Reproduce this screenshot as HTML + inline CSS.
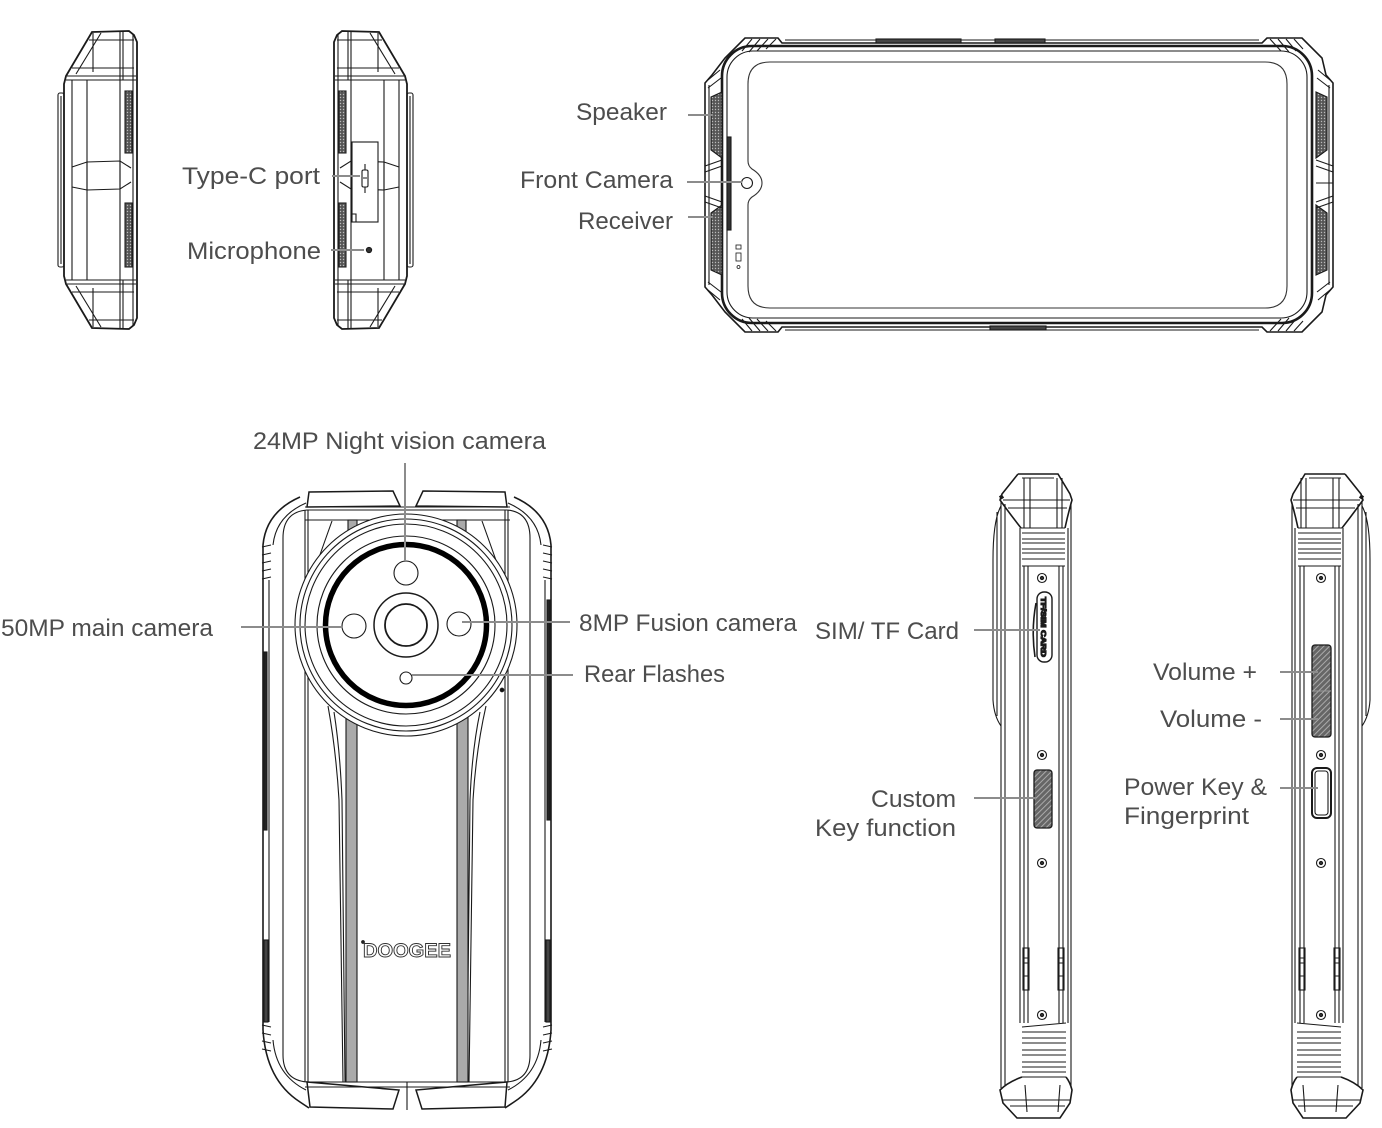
<!DOCTYPE html>
<html><head><meta charset="utf-8"><style>
html,body{margin:0;padding:0;background:#fff;}
svg{display:block;}
text{font-family:"Liberation Sans",sans-serif;font-size:24px;fill:#4d4d4d;}
</style></head><body>
<svg width="1382" height="1128" viewBox="0 0 1382 1128" xmlns="http://www.w3.org/2000/svg">
<defs>
<pattern id="mesh" width="3" height="3" patternUnits="userSpaceOnUse"><rect width="3" height="3" fill="#555"/><circle cx="1.5" cy="1.5" r="0.7" fill="#bbb"/></pattern>
<pattern id="hatch" width="4" height="4" patternUnits="userSpaceOnUse" patternTransform="rotate(45)"><rect width="4" height="4" fill="#666"/><line x1="1" y1="0" x2="1" y2="4" stroke="#aaa" stroke-width="1"/></pattern>

<g id="p1" fill="none" stroke="#1a1a1a" stroke-width="1.1">
 <path d="M92 32 L129 31 L134 35 L137 42 L137 318 L134 325 L129 329 L92 328 L66 284 L64 276 L64 84 L66 76 Z" stroke-width="1.8"/>
 <rect x="58" y="93" width="6" height="174" rx="2"/>
 <line x1="61" y1="96" x2="61" y2="264"/>
 <line x1="133" y1="35" x2="133" y2="325"/>
 <line x1="120" y1="32" x2="120" y2="328"/>
 <line x1="123" y1="32" x2="123" y2="80"/>
 <line x1="123" y1="280" x2="123" y2="328"/>
 <line x1="72" y1="80" x2="72" y2="280"/>
 <line x1="87" y1="80" x2="87" y2="280"/>
 <line x1="93" y1="33" x2="93" y2="72"/>
 <line x1="93" y1="288" x2="93" y2="327"/>
 <path d="M89 40 L134 40 M72 68 L134 68 M67 76 L136 76 M66 80 L136 80"/>
 <path d="M89 320 L134 320 M72 292 L134 292 M67 284 L136 284 M66 280 L136 280"/>
 <path d="M101 33 L76 74 M101 327 L76 286"/>
 <path d="M72 167 L87 162 L120 161 L131 168 M72 187 L87 190 L120 189 L131 182"/>
 <path d="M87 162 L87 190 M120 161 L120 189"/>
 <rect x="125" y="91" width="7" height="62" fill="url(#mesh)" stroke="#222"/>
 <rect x="125" y="203" width="7" height="64" fill="url(#mesh)" stroke="#222"/>
</g>

<g id="ps" fill="none" stroke="#1a1a1a" stroke-width="1.1">
 <path d="M1018 474 L1058 474 L1070 494 L1072 500 Q1068 514 1065 528 M1018 474 L1002 494 L1000 500 Q1010 514 1021 528" stroke-width="1.6"/>
 <path d="M1000 498 L1003 496" stroke-width="4"/>
 <path d="M1022 478 L1054 478 M1003 500 L1070 500 M1008 508 L1067 508"/>
 <path d="M1024 478 L1024 528 M1030 478 L1030 528 M1057 478 L1057 528 M1062 478 L1062 528"/>
 <path d="M1021 528 L1065 528 M1022 533 L1065 533 M1022 539 L1065 539 M1022 543 L1065 543 M1022 549 L1065 549 M1022 553 L1065 553 M1022 559 L1065 559 M1022 566 L1065 566"/>
 <path d="M1001 502 L1001 1088 M1005 504 L1005 1086"/>
 <path d="M1001 506 Q993 520 993 560 L993 700 Q994 716 1001 726 M997 512 L997 716"/>
 <path d="M1020 528 L1020 1023 M1024 566 L1024 1023 M1028 566 L1028 1023"/>
 <path d="M1059 566 L1059 1023 M1063 566 L1063 1023 M1068 528 L1068 1023 M1071 502 L1071 1088"/>
 <rect x="1023" y="948" width="6" height="42"/>
 <rect x="1058" y="948" width="6" height="42"/>
 <path d="M1023 958 L1029 958 M1023 963 L1029 963 M1058 958 L1064 958 M1058 963 L1064 963 M1023 976 L1029 976 M1058 976 L1064 976"/>
 <path d="M1022 1027 L1066 1023 M1022 1032 L1066 1032 M1022 1038 L1066 1038 M1022 1043 L1066 1043 M1022 1050 L1066 1050 M1022 1055 L1066 1055 M1022 1062 L1066 1062 M1022 1067 L1066 1067 M1022 1072 L1066 1072 M1022 1077 L1066 1077"/>
 <path d="M1022 1077 Q1008 1082 1000 1090 L1003 1103 L1017 1118 L1060 1118 L1070 1103 L1072 1090 Q1070 1082 1066 1077" stroke-width="1.6"/>
 <path d="M1003 1100 L1070 1100 M1010 1106 L1065 1106 M1025 1085 L1027 1112 M1060 1085 L1058 1112"/>
 <circle cx="1042" cy="578" r="4.5"/><circle cx="1042" cy="578" r="1.6" fill="#333"/>
 <circle cx="1042" cy="755" r="4.5"/><circle cx="1042" cy="755" r="1.6" fill="#333"/>
 <circle cx="1042" cy="863" r="4.5"/><circle cx="1042" cy="863" r="1.6" fill="#333"/>
 <circle cx="1042" cy="1015" r="4.5"/><circle cx="1042" cy="1015" r="1.6" fill="#333"/>
</g>
</defs>

<!-- Phone 1 & 2 -->
<use href="#p1"/>
<use href="#p1" transform="translate(471,0) scale(-1,1)"/>
<g fill="none" stroke="#1a1a1a" stroke-width="1.1">
 <rect x="352" y="142" width="26" height="80" fill="#fff"/>
 <path d="M352 214 L356 214 L356 222"/>
 <rect x="362" y="170" width="6" height="17" rx="1.5"/>
 <path d="M365 164 L365 170 M365 187 L365 193 M363 178 L367 178"/>
 <circle cx="369" cy="250" r="2.6" fill="#333"/>
</g>

<!-- Front phone -->
<g fill="none" stroke="#1a1a1a" stroke-width="1.1">
 <path d="M745 38 L778 38 L782 43 L1262 43 L1267 38 L1302 38 L1322 58 L1326 75 L1333 83 L1333 287 L1326 295 L1322 312 L1302 332 L1267 332 L1262 327 L782 327 L778 332 L745 332 L725 312 L712 295 L705 287 L705 83 L712 75 L725 58 Z" stroke-width="1.6"/>
 <rect x="722" y="46" width="590" height="277" rx="30" stroke-width="2.6"/>
 <rect x="727" y="51" width="580" height="267" rx="26"/>
 <path d="M770 62 H1265 Q1287 62 1287 84 V286 Q1287 308 1265 308 H770 Q748 308 748 286 V205 Q748 200 752 197 Q762 191 762 183 Q762 175 752 169 Q748 166 748 161 V84 Q748 62 770 62 Z" stroke="#333"/>
 <circle cx="747" cy="183" r="5.5"/>
 <path d="M752 39 L742 51 M760 39 L749 52 M768 39 L757 51 M776 39 L766 49 M708 80 L720 70 M708 88 L721 78"/>
 <path d="M1286 39 L1296 51 M1278 39 L1289 52 M1270 39 L1281 51 M1294 39 L1303 49 M1330 80 L1318 70 M1330 88 L1317 78"/>
 <path d="M752 331 L742 319 M760 331 L749 318 M768 331 L757 319 M776 331 L766 321 M708 290 L720 300 M708 282 L721 292"/>
 <path d="M1286 331 L1296 319 M1278 331 L1289 318 M1270 331 L1281 319 M1294 331 L1303 321 M1330 290 L1318 300 M1330 282 L1317 292"/>
 <path d="M709 85 L709 285 M1329 85 L1329 285 M785 40 L1259 40 M785 330 L1259 330"/>
 <rect x="876" y="39" width="85" height="4" fill="#444"/>
 <rect x="995" y="39" width="50" height="4" fill="#444"/>
 <rect x="990" y="326" width="56" height="4" fill="#444"/>
 <path d="M711 97 L722 92 L722 158 L711 150 Z" fill="url(#mesh)"/>
 <path d="M711 213 L722 205 L722 275 L711 270 Z" fill="url(#mesh)"/>
 <path d="M1327 97 L1316 92 L1316 158 L1327 150 Z" fill="url(#mesh)"/>
 <path d="M1327 213 L1316 205 L1316 275 L1327 270 Z" fill="url(#mesh)"/>
 <path d="M705 166 L722 160 M705 172 L722 166 M705 196 L722 202 M705 202 L722 208"/>
 <path d="M1333 166 L1316 160 M1333 172 L1316 166 M1333 196 L1316 202 M1333 202 L1316 208 M1316 183 L1333 183"/>
 <rect x="727" y="137" width="4" height="93" fill="#333"/>
 <rect x="736" y="245" width="5" height="4" stroke-width="0.8"/>
 <rect x="736" y="253" width="5" height="8" stroke-width="0.8"/>
 <circle cx="738.5" cy="267" r="1.5" stroke-width="0.8"/>
</g>

<!-- Back phone -->
<g fill="none" stroke="#1a1a1a" stroke-width="1.1">
 <path d="M300 497 Q266 512 263 545 L263 1030 Q266 1080 300 1102 L309 1108" stroke-width="1.6"/>
 <path d="M514 497 Q548 512 551 545 L551 1030 Q548 1080 514 1102 L505 1108" stroke-width="1.6"/>
 <path d="M307 507 L309 492 L393 491 L400 506 Z M416 506 L423 491 L505 492 L507 507 Z" stroke-width="1.5"/>
 <path d="M307 1082 L310 1107 L393 1109 L399 1090 Z M416 1090 L422 1109 L505 1107 L507 1082 Z" stroke-width="1.5"/>
 <path d="M407 1082 L407 1110"/>
 <path d="M307 510 L507 510 Q530 512 530 538 L530 1055 Q530 1080 507 1082 L307 1082 Q283 1080 283 1055 L283 538 Q283 512 307 510 Z"/>
 <path d="M273 545 Q276 516 306 503 M541 545 Q538 516 508 503 M273 1040 Q276 1075 306 1090 M541 1040 Q538 1075 508 1090"/>
 <path d="M305 507 L510 507 M305 520 L510 520 M305 1087 L510 1087"/>
 <path d="M305 510 L305 1082 M308 510 L308 1082 M505 510 L505 1082 M508 510 L508 1082"/>
 <path d="M262 547 L271 545 M262 555 L271 553 M262 563 L271 561 M262 571 L271 569 M262 579 L271 577"/>
 <path d="M552 547 L543 545 M552 555 L543 553 M552 563 L543 561 M552 571 L543 569 M552 579 L543 577"/>
 <path d="M262 1025 L271 1027 M262 1033 L271 1035 M262 1041 L271 1043 M262 1049 L271 1051"/>
 <path d="M552 1025 L543 1027 M552 1033 L543 1035 M552 1041 L543 1043 M552 1049 L543 1051"/>
 <path d="M269 580 L269 1022 M545 580 L545 1022"/>
 <rect x="264" y="652" width="3" height="178" fill="#222"/>
 <rect x="264" y="940" width="4" height="82" fill="#444"/>
 <rect x="547" y="600" width="3" height="220" fill="#222"/>
 <rect x="546" y="940" width="4" height="82" fill="#444"/>
 <path d="M332 521 Q318 560 307 592 M482 521 Q496 560 507 592"/>
 <path d="M328 706 Q336 750 339 800 L343 1082 M334 712 Q340 750 342 800 L345 1082"/>
 <path d="M486 706 Q476 750 473 800 L469 1082 M480 712 Q472 750 470 800 L467 1082"/>
 <rect x="346" y="712" width="11" height="370" fill="#aaa"/>
 <rect x="457" y="712" width="11" height="370" fill="#aaa"/>
 <rect x="348" y="520" width="9" height="15" fill="#aaa"/>
 <rect x="457" y="520" width="9" height="15" fill="#aaa"/>
 <circle cx="406" cy="625" r="111" fill="#fff"/>
 <circle cx="406" cy="625" r="106"/>
 <circle cx="406" cy="625" r="101"/>
 <circle cx="406" cy="625" r="89"/>
 <circle cx="406" cy="625" r="80.5" stroke="#000" stroke-width="5.5"/>
 <circle cx="406" cy="573" r="12"/>
 <circle cx="354" cy="626" r="12"/>
 <circle cx="459" cy="624" r="12"/>
 <circle cx="406" cy="625" r="32" stroke-width="1.5"/>
 <circle cx="406" cy="625" r="21" stroke-width="1.8"/>
 <circle cx="406" cy="678" r="6"/>
 <circle cx="502" cy="690" r="1.8" fill="#111"/>
 <circle cx="363" cy="942" r="1.3" fill="#333"/>
 <text x="363" y="957" textLength="88" lengthAdjust="spacingAndGlyphs" style="font-size:19px;font-weight:bold;fill:none;stroke:#333;stroke-width:0.9">DOOGEE</text>
</g>

<!-- Side phones -->
<use href="#ps"/>
<use href="#ps" transform="translate(2363,0) scale(-1,1)"/>
<g fill="none" stroke="#1a1a1a" stroke-width="1.1">
 <rect x="1037" y="592" width="15" height="70" rx="7" fill="#fff" stroke-width="1.4"/>
 <text transform="translate(1041,597) rotate(90)" textLength="60" lengthAdjust="spacingAndGlyphs" style="font-size:7px;font-weight:bold;fill:#222">TF/SIM CARD</text>
 <path d="M1036 603 Q1031 630 1035 657" stroke-width="1.6"/>
 <rect x="1034" y="770" width="18" height="58" rx="3" fill="url(#hatch)" stroke-width="1.3"/>
 <rect x="1312" y="645" width="19" height="92" rx="3" fill="url(#hatch)" stroke-width="1.3"/>
 <line x1="1312" y1="691" x2="1331" y2="691" stroke="#999"/>
 <rect x="1312" y="768" width="19" height="50" rx="5" fill="#fff" stroke-width="2"/>
 <rect x="1315" y="771" width="13" height="44" rx="3"/>
</g>

<!-- Leader lines -->
<g stroke="#8c8c8c" stroke-width="2" fill="none">
 <path d="M332 176 H360 M331 250 H364"/>
 <path d="M688 115 H713 M687 182 H742 M688 217 H713"/>
 <path d="M405 463 V561"/>
 <path d="M241 627 H343 M462 622 H570 M412 675 H573"/>
 <path d="M974 630 H1040 M974 798 H1036"/>
 <path d="M1280 672 H1318 M1280 719 H1318 M1280 788 H1318"/>
</g>

<!-- Labels -->
<text x="182" y="184" textLength="138" lengthAdjust="spacingAndGlyphs">Type-C port</text>
<text x="187" y="259" textLength="134" lengthAdjust="spacingAndGlyphs">Microphone</text>
<text x="576" y="120" textLength="91" lengthAdjust="spacingAndGlyphs">Speaker</text>
<text x="520" y="188" textLength="153" lengthAdjust="spacingAndGlyphs">Front Camera</text>
<text x="578" y="229" textLength="95" lengthAdjust="spacingAndGlyphs">Receiver</text>
<text x="253" y="449" textLength="293" lengthAdjust="spacingAndGlyphs">24MP Night vision camera</text>
<text x="1" y="636" textLength="212" lengthAdjust="spacingAndGlyphs">50MP main camera</text>
<text x="579" y="631" textLength="218" lengthAdjust="spacingAndGlyphs">8MP Fusion camera</text>
<text x="584" y="682" textLength="141" lengthAdjust="spacingAndGlyphs">Rear Flashes</text>
<text x="815" y="639" textLength="144" lengthAdjust="spacingAndGlyphs">SIM/ TF Card</text>
<text x="1153" y="680" textLength="104" lengthAdjust="spacingAndGlyphs">Volume +</text>
<text x="1160" y="727" textLength="102" lengthAdjust="spacingAndGlyphs">Volume -</text>
<text x="1124" y="795" textLength="143" lengthAdjust="spacingAndGlyphs">Power Key &amp;</text>
<text x="1124" y="824" textLength="125" lengthAdjust="spacingAndGlyphs">Fingerprint</text>
<text x="871" y="807" textLength="85" lengthAdjust="spacingAndGlyphs">Custom</text>
<text x="815" y="836" textLength="141" lengthAdjust="spacingAndGlyphs">Key function</text>
</svg>
</body></html>
